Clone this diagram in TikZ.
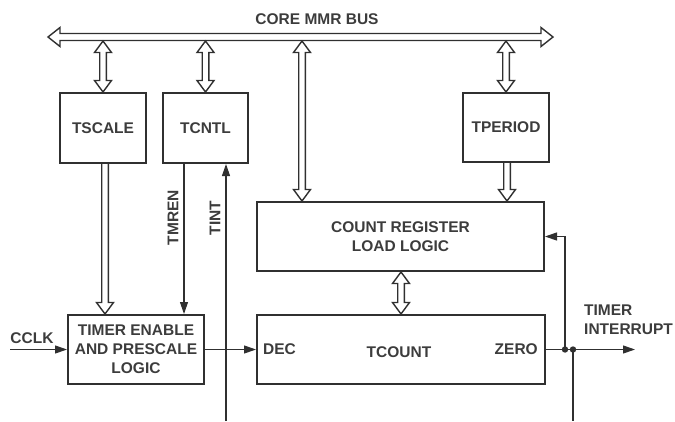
\documentclass[tikz,border=0pt]{standalone}
\usepackage{fontspec}
\setmainfont{Liberation Sans}
\usetikzlibrary{arrows.meta,calc}
\definecolor{ink}{HTML}{303030}
\definecolor{txt}{HTML}{3C3C3C}
\newcommand\lblfont{\bfseries\fontsize{15.5}{19}\selectfont}
% hollow double-headed vertical arrow, #1 top tip, #2 bottom tip
\newcommand\hvarrow[2]{%
 \draw[hollowar] let \p1=#1, \p2=#2 in
  (\x1,\y1) -- (\x1+8.5pt,\y1-11.5pt) -- (\x1+3.3pt,\y1-11.5pt) -- (\x1+3.3pt,\y2+11.5pt)
  -- (\x1+8.5pt,\y2+11.5pt) -- (\x1,\y2) -- (\x1-8.5pt,\y2+11.5pt) -- (\x1-3.3pt,\y2+11.5pt)
  -- (\x1-3.3pt,\y1-11.5pt) -- (\x1-8.5pt,\y1-11.5pt) -- cycle;}
% hollow downward arrow, #1 top (flat start), #2 bottom tip
\newcommand\hdownarrow[2]{%
 \draw[hollowar] let \p1=#1, \p2=#2 in
  (\x1-3.3pt,\y1) -- (\x1-3.3pt,\y2+11.5pt) -- (\x1-8.5pt,\y2+11.5pt) -- (\x1,\y2)
  -- (\x1+8.5pt,\y2+11.5pt) -- (\x1+3.3pt,\y2+11.5pt) -- (\x1+3.3pt,\y1);}
\begin{document}
\begin{tikzpicture}[x=1pt,y=-1pt,
 box/.style={draw=ink,line width=2pt,inner sep=0pt,align=center,text=txt,font=\lblfont},
 lbl/.style={text=txt,font=\lblfont,inner sep=0pt},
 sig/.style={draw=ink,line width=1.1pt,-{Triangle[length=12pt,width=8pt]}},
 plain/.style={draw=ink,line width=1.1pt},
 hollowar/.style={draw=ink,line width=1.4pt,line join=miter}]
\useasboundingbox (0,0) rectangle (675,421);

% coordinates
\coordinate (busL) at (48,37);
\coordinate (busR) at (553,37);
\coordinate (busB) at (0,41);
\coordinate (cclkS) at (10,349.5);
\coordinate (tmrenX) at (184,0);
\coordinate (tintS) at (226,421);
\coordinate (j1) at (565,349.5);
\coordinate (j2) at (573,349.5);
\coordinate (irqE) at (635,349.5);
\coordinate (j2B) at (573,421);
\coordinate (busregX) at (302,0);
\coordinate (tperX) at (507,0);
\coordinate (tsX) at (105,0);
\coordinate (ctX) at (401,0);

% boxes
\node[box,minimum width=86pt,minimum height=70pt] (tscale) at (103,128) {TSCALE};
\node[box,minimum width=85pt,minimum height=70pt] (tcntl) at (205.5,128) {TCNTL};
\node[box,minimum width=86pt,minimum height=69pt] (tperiod) at (506,127.5) {TPERIOD};
\node[box,minimum width=287pt,minimum height=69pt] (reg) at (400.5,236.5) {COUNT REGISTER\\LOAD LOGIC};
\node[box,minimum width=288pt,minimum height=69pt] (tcount) at (401,349.5) {};
\node[box,minimum width=136pt,minimum height=69pt] (te) at (136,349.5) {TIMER ENABLE\\AND PRESCALE\\LOGIC};

% labels inside TCOUNT
\node[lbl,anchor=west] (dec) at ([xshift=7pt]tcount.west) {DEC};
\node[lbl] (tcnt) at (399,352) {TCOUNT};
\node[lbl,anchor=east] (zero) at ([xshift=-8pt]tcount.east) {ZERO};

% bus
\draw[hollowar] let \p1=(busL), \p2=(busR) in
 (\x1,\y1) -- (\x1+12pt,\y1+9.5pt) -- (\x1+12pt,\y1+3.5pt) -- (\x2-12pt,\y1+3.5pt)
 -- (\x2-12pt,\y1+9.5pt) -- (\x2,\y1) -- (\x2-12pt,\y1-9.5pt) -- (\x2-12pt,\y1-3.5pt)
 -- (\x1+12pt,\y1-3.5pt) -- (\x1+12pt,\y1-9.5pt) -- cycle;
\node[lbl] (busl) at (317,19) {CORE MMR BUS};

% hollow arrows
\hvarrow{(tscale.north |- busB)}{(tscale.north)}
\hvarrow{(tcntl.north |- busB)}{(tcntl.north)}
\hvarrow{(tperiod.north |- busB)}{(tperiod.north)}
\hvarrow{(busregX |- busB)}{(busregX |- reg.north)}
\hvarrow{(ctX |- reg.south)}{(ctX |- tcount.north)}
\hdownarrow{(tsX |- tscale.south)}{(tsX |- te.north)}
\hdownarrow{(tperX |- tperiod.south)}{(tperX |- reg.north)}

% signals
\draw[sig] (cclkS) -- (te.west);
\node[lbl] (cclk) at (32,338) {CCLK};
\draw[sig] (te.east) -- (tcount.west);
\draw[sig] (tmrenX |- tcntl.south) -- (tmrenX |- te.north);
\node[lbl,rotate=90] (tmren) at (173,217.5) {TMREN};
\draw[sig] (tintS) -- (tintS |- tcntl.south);
\node[lbl,rotate=90] (tint) at (215,218) {TINT};
\draw[sig] (tcount.east) -- (irqE);
\draw[sig] (j1) |- (reg.east);
\draw[plain] (j2) -- (j2B);
\fill[ink] (j1) circle (3.2);
\fill[ink] (j2) circle (3.2);
\node[lbl,anchor=west,align=left] (irq) at (584,320) {TIMER\\INTERRUPT};
\end{tikzpicture}
\end{document}
